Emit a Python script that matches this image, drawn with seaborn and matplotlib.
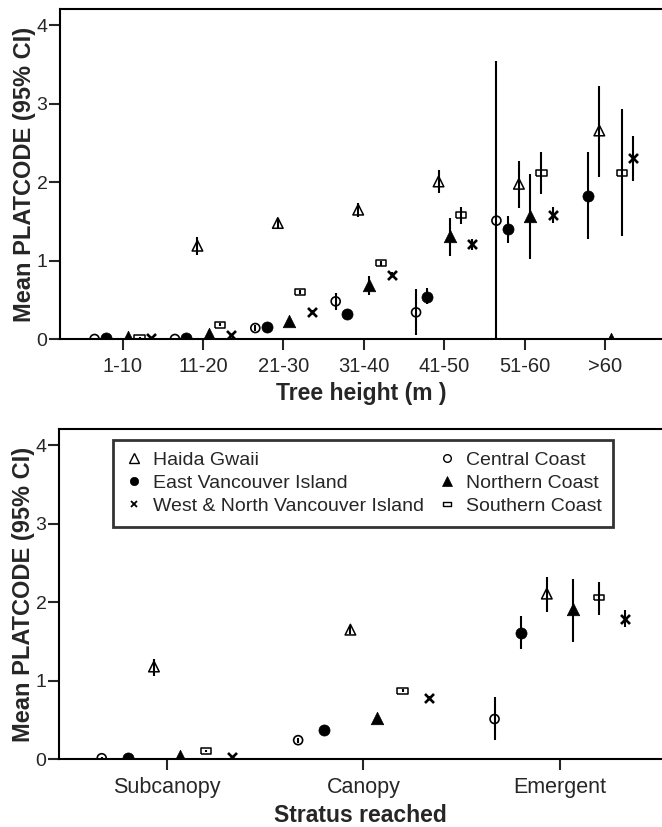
import numpy as np
import pandas as pd
import matplotlib
matplotlib.use("Agg")
import matplotlib.pyplot as plt
from matplotlib.lines import Line2D
import seaborn as sns

sns.set_style("ticks")
plt.rcParams["font.family"] = ["Liberation Sans", "DejaVu Sans"]

nan = np.nan

# Regions in the order they sit inside each group (left to right)
regions = ["Central Coast", "East Vancouver Island", "Haida Gwaii",
           "Northern Coast", "Southern Coast", "West & North Vancouver Island"]

# ---- top panel: tree height classes ----
height_classes = ["1-10", "11-20", "21-30", "31-40", "41-50", "51-60", ">60"]
height_mean = {
    "Central Coast":                 [0.00, 0.00, 0.14, 0.48, 0.34, 1.51, nan],
    "East Vancouver Island":         [0.01, 0.01, 0.15, 0.32, 0.54, 1.40, 1.83],
    "Haida Gwaii":                   [nan, 1.19, 1.48, 1.65, 2.01, 1.98, 2.66],
    "Northern Coast":                [0.02, 0.07, 0.23, 0.69, 1.31, 1.57, 0.00],
    "Southern Coast":                [0.02, 0.18, 0.60, 0.97, 1.58, 2.12, 2.12],
    "West & North Vancouver Island": [0.01, 0.05, 0.35, 0.82, 1.21, 1.58, 2.31],
}
height_lo = {
    "Central Coast":                 [0.00, 0.00, 0.10, 0.37, 0.05, 0.00, nan],
    "East Vancouver Island":         [0.00, 0.00, 0.13, 0.30, 0.45, 1.22, 1.28],
    "Haida Gwaii":                   [nan, 1.07, 1.42, 1.56, 1.86, 1.67, 2.07],
    "Northern Coast":                [0.00, 0.03, 0.20, 0.56, 1.06, 1.02, 0.00],
    "Southern Coast":                [0.00, 0.16, 0.58, 0.93, 1.47, 1.85, 1.31],
    "West & North Vancouver Island": [0.00, 0.03, 0.33, 0.79, 1.13, 1.48, 2.02],
}
height_hi = {
    "Central Coast":                 [0.00, 0.00, 0.18, 0.59, 0.64, 3.55, nan],
    "East Vancouver Island":         [0.02, 0.02, 0.17, 0.34, 0.65, 1.57, 2.38],
    "Haida Gwaii":                   [nan, 1.30, 1.55, 1.73, 2.16, 2.27, 3.23],
    "Northern Coast":                [0.04, 0.11, 0.26, 0.80, 1.54, 2.11, 0.00],
    "Southern Coast":                [0.03, 0.20, 0.62, 1.00, 1.69, 2.38, 2.93],
    "West & North Vancouver Island": [0.02, 0.07, 0.37, 0.85, 1.28, 1.69, 2.59],
}

# ---- bottom panel: stratum reached ----
strata = ["Subcanopy", "Canopy", "Emergent"]
stratum_mean = {
    "Central Coast":                 [0.01, 0.24, 0.51],
    "East Vancouver Island":         [0.01, 0.37, 1.61],
    "Haida Gwaii":                   [1.18, 1.65, 2.11],
    "Northern Coast":                [0.04, 0.52, 1.92],
    "Southern Coast":                [0.10, 0.87, 2.06],
    "West & North Vancouver Island": [0.03, 0.78, 1.79],
}
stratum_lo = {
    "Central Coast":                 [0.00, 0.21, 0.24],
    "East Vancouver Island":         [0.00, 0.35, 1.40],
    "Haida Gwaii":                   [1.06, 1.60, 1.88],
    "Northern Coast":                [0.02, 0.49, 1.49],
    "Southern Coast":                [0.09, 0.85, 1.84],
    "West & North Vancouver Island": [0.02, 0.75, 1.69],
}
stratum_hi = {
    "Central Coast":                 [0.02, 0.27, 0.79],
    "East Vancouver Island":         [0.02, 0.39, 1.83],
    "Haida Gwaii":                   [1.28, 1.70, 2.32],
    "Northern Coast":                [0.06, 0.55, 2.30],
    "Southern Coast":                [0.11, 0.89, 2.26],
    "West & North Vancouver Island": [0.04, 0.81, 1.90],
}

# marker styles per region
rect = [(-1, -0.55), (1, -0.55), (1, 0.55), (-1, 0.55), (-1, -0.55)]
styles = {
    "Central Coast":                 dict(marker="o", s=42, facecolor="none", edgecolor="black", linewidth=1.2),
    "East Vancouver Island":         dict(marker="o", s=64, color="black", edgecolor="black", linewidth=0.5),
    "Haida Gwaii":                   dict(marker="^", s=58, facecolor="none", edgecolor="black", linewidth=1.1),
    "Northern Coast":                dict(marker="^", s=81, color="black", edgecolor="black", linewidth=0.5),
    "Southern Coast":                dict(marker=rect, s=55, facecolor="none", edgecolor="black", linewidth=1.1),
    "West & North Vancouver Island": dict(marker="x", s=42, color="black", linewidth=1.9),
}
legend_styles = {
    "Central Coast":                 dict(marker="o", mfc="none", mec="black", ms=5.5, mew=1.0),
    "East Vancouver Island":         dict(marker="o", mfc="black", mec="black", ms=6, mew=0.5),
    "Haida Gwaii":                   dict(marker="^", mfc="none", mec="black", ms=6.5, mew=1.0),
    "Northern Coast":                dict(marker="^", mfc="black", mec="black", ms=6.5, mew=0.5),
    "Southern Coast":                dict(marker=rect, mfc="none", mec="black", ms=6, mew=1.0),
    "West & North Vancouver Island": dict(marker="x", color="black", ms=5, mew=1.3),
}


def draw_panel(ax, groups, means, lo, hi, step, xlim, xlabel, tick_size):
    base = np.arange(len(groups))
    for i, reg in enumerate(regions):
        x = base + (i - 2.5) * step
        df = pd.DataFrame({"x": x, "y": means[reg], "lo": lo[reg], "hi": hi[reg]})
        ax.vlines(df["x"], df["lo"], df["hi"], color="black", linewidth=1.5, zorder=2)
        sns.scatterplot(data=df.dropna(), x="x", y="y", ax=ax, zorder=3, legend=False,
                        **styles[reg])
    ax.set_xticks(base)
    ax.set_xticklabels(groups, fontsize=tick_size)
    ax.set_xlim(*xlim)
    ax.set_ylim(0, 4.21)
    ax.set_yticks([0, 1, 2, 3, 4])
    ax.tick_params(axis="y", labelsize=14, length=8, width=1.5, pad=1)
    ax.tick_params(axis="x", length=8, width=1.5, pad=5)
    for side in ["left", "top", "bottom"]:
        ax.spines[side].set_linewidth(1.5)
        ax.spines[side].set_color("black")
    ax.spines["right"].set_visible(False)
    ax.set_xlabel(xlabel, fontsize=16.5, fontweight="bold", labelpad=4)
    ax.set_ylabel("Mean PLATCODE (95% CI)", fontsize=17, fontweight="bold")
    ax.yaxis.set_label_coords(-0.04, 0.5)


fig = plt.figure(figsize=(6.62, 8.27), dpi=100)
ax1 = fig.add_axes([60 / 662, 1 - 339 / 827, 602 / 662, 330 / 827])
ax2 = fig.add_axes([59 / 662, 1 - 759 / 827, 603 / 662, 330 / 827])

draw_panel(ax1, height_classes, height_mean, height_lo, height_hi, 0.14,
           (-0.78, 6.71), "Tree height (m )", 14.5)
draw_panel(ax2, strata, stratum_mean, stratum_lo, stratum_hi, 0.133,
           (-0.55, 2.52), "Stratus reached", 15.5)

legend_order = ["Haida Gwaii", "East Vancouver Island", "West & North Vancouver Island",
                "Central Coast", "Northern Coast", "Southern Coast"]
handles = [Line2D([], [], linestyle="none", **legend_styles[r]) for r in legend_order]
leg = ax2.legend(handles, legend_order, ncol=2, loc="upper left",
                 bbox_to_anchor=((113 - 59) / 603, 1 - (440 - 429) / 330),
                 borderaxespad=0, fontsize=14, frameon=True, fancybox=False,
                 edgecolor="black", handlelength=1.0, handletextpad=0.45,
                 columnspacing=0.7, labelspacing=0.27, borderpad=0.6)
leg.get_frame().set_linewidth(2)

fig.savefig("out.png", dpi=100)
